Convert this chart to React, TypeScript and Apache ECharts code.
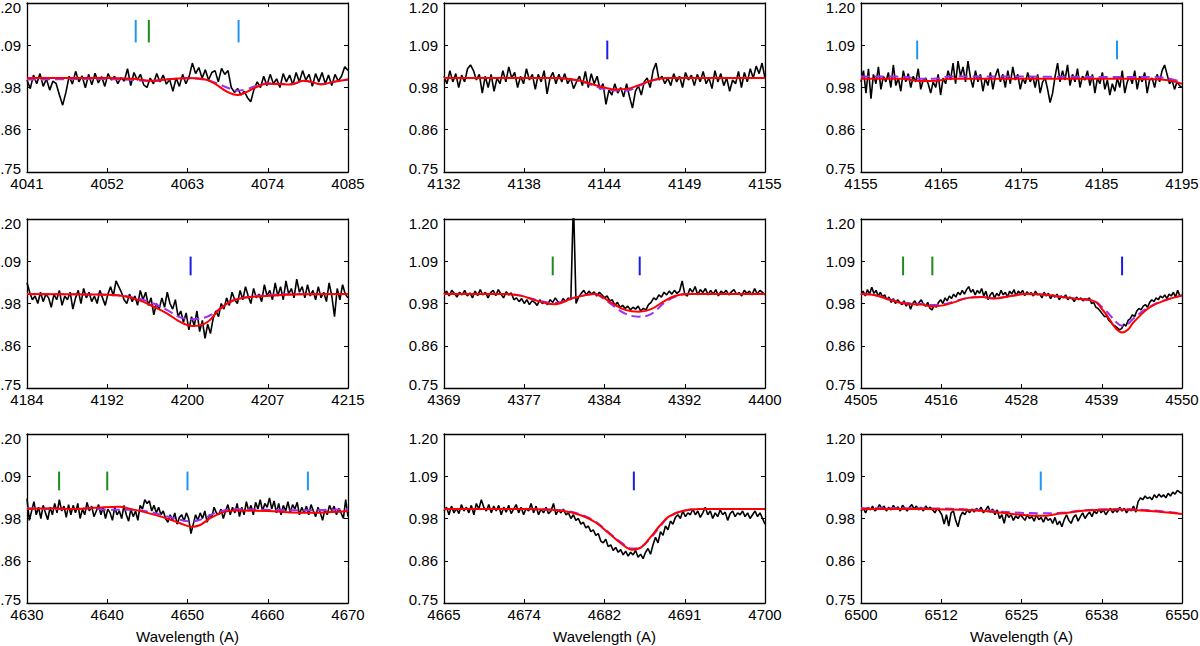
import React, { useEffect, useRef } from "react";
import * as echarts from "echarts";

// Normalised flux axis shared by every panel
const yTickValues = [0.75, 0.8625, 0.975, 1.0875, 1.2];
const yTickLabels = ["0.75", "0.86", "0.98", "1.09", "1.20"];

// ---- Panel 1: 4041-4085 A ----
const p1Range = [4041, 4085];
const p1Ticks = ["4041", "4052", "4063", "4074", "4085"];
const p1Flux = [
  0.995, 0.972, 1.008, 0.985, 1.012, 0.978, 0.998, 0.968, 0.992, 0.985,
  0.955, 0.928, 0.962, 1.005, 0.984, 1.018, 0.99, 1.006, 0.974, 1.01,
  0.982, 1.013, 0.987, 1.004, 0.978, 1.012, 0.995, 1.005, 0.985, 1.001,
  0.992, 1.025, 0.98, 1.015, 0.995, 1.01, 0.982, 0.975, 1.0, 0.985,
  1.012, 0.99, 1.008, 0.984, 0.996, 0.965, 1.0, 0.978, 1.01, 0.985,
  1.004, 1.04, 1.012, 1.028, 1.0, 1.022, 0.995, 1.015, 1.02, 0.99,
  1.026, 1.01, 1.02, 0.975, 0.962, 0.972, 0.955, 0.965, 0.948, 0.937,
  0.97, 0.99, 0.975, 1.005, 0.98, 1.01, 0.985, 0.998, 0.975, 1.012,
  0.99, 1.008, 0.982, 1.015, 0.99, 1.02, 0.995, 1.01, 0.978, 1.012,
  0.99, 1.015, 0.985, 1.008, 0.98, 1.01, 0.992, 1.005, 1.03, 1.02,
];
const p1Red = [
  [4041, 1.0], [4052, 1.0], [4055.5, 0.998], [4058, 0.993], [4060.5, 0.997],
  [4063, 1.0], [4065, 0.998], [4066.5, 0.988], [4068.4, 0.964], [4069.8, 0.955],
  [4071, 0.962], [4072.2, 0.974], [4074, 0.985], [4075.5, 0.984], [4077.2, 0.983],
  [4078.9, 0.993], [4080, 0.99], [4081.3, 0.983], [4083, 0.99], [4085, 0.996],
];
const p1Purple = [
  [4041, 0.996], [4045, 0.997], [4050, 0.998], [4053, 0.997], [4055.5, 0.995],
  [4058, 0.992], [4060.5, 0.997], [4063, 0.999], [4065, 0.997], [4066.5, 0.99],
  [4068.4, 0.975], [4069.8, 0.967], [4071, 0.97], [4072.2, 0.978], [4074, 0.986],
  [4075.5, 0.985], [4077.2, 0.984], [4078.9, 0.992], [4080, 0.99], [4081.3, 0.984],
  [4083, 0.99], [4085, 0.996],
];
const p1Marks = [[4055.9, "c"], [4057.7, "g"], [4070.0, "c"]];
const p1MarkSpan = [1.095, 1.155];

// ---- Panel 2: 4132-4155 A ----
const p2Range = [4132, 4155];
const p2Ticks = ["4132", "4138", "4144", "4149", "4155"];
const p2Flux = [
  1.005, 0.985, 1.02, 0.99, 1.012, 0.975, 1.008, 0.99, 1.025, 1.035,
  1.02, 0.995, 1.01, 0.96, 1.005, 0.975, 1.01, 0.965, 1.0, 0.985,
  1.02, 0.99, 1.03, 1.0, 1.015, 0.975, 1.005, 0.985, 1.025, 0.995,
  1.01, 0.97, 1.01, 0.99, 1.02, 0.958, 1.0, 1.015, 0.985, 1.01,
  0.99, 1.012, 0.985, 1.0, 0.972, 0.99, 1.005, 0.98, 1.018, 0.975,
  1.012, 0.985, 1.005, 0.97, 0.985, 0.93, 0.968, 0.955, 0.985, 0.96,
  0.975, 0.95, 0.985, 0.95, 0.92, 0.965, 0.98, 0.955, 0.99, 1.0,
  0.975, 1.02, 1.04, 0.995, 1.005, 0.985, 1.0, 0.98, 1.012, 0.99,
  1.005, 0.975, 1.015, 0.995, 1.008, 0.98, 1.01, 0.99, 1.018, 0.985,
  1.0, 0.972, 1.02, 0.99, 1.012, 0.98, 1.0, 0.965, 0.995, 0.985,
  1.018, 0.975, 1.015, 0.99, 1.025, 1.0, 1.032, 1.012, 1.04, 1.0,
];
const p2Red = [
  [4132, 1.0], [4140, 1.0], [4141.5, 0.995], [4142.5, 0.985], [4143.5, 0.975],
  [4144.3, 0.97], [4145.2, 0.972], [4146, 0.982], [4147, 0.995], [4148, 1.0],
  [4155, 1.0],
];
const p2Purple = [
  [4132, 1.0], [4140, 1.0], [4141.5, 0.994], [4142.5, 0.983], [4143.5, 0.97],
  [4144.3, 0.967], [4145.2, 0.968], [4146, 0.98], [4147, 0.994], [4148, 1.0],
  [4155, 1.0],
];
const p2Marks = [[4143.7, "b"]];
const p2MarkSpan = [1.05, 1.1];

// ---- Panel 3: 4155-4195 A ----
const p3Range = [4155, 4195];
const p3Ticks = ["4155", "4165", "4175", "4185", "4195"];
const p3Flux = [
  0.99, 1.02, 0.96, 1.025, 0.945, 1.01, 0.985, 1.03, 0.97, 1.005,
  0.99, 1.015, 0.975, 1.035, 0.98, 1.0, 0.965, 1.02, 0.99, 1.012,
  0.975, 1.005, 0.99, 1.025, 0.97, 0.995, 1.0, 0.985, 0.96, 0.99,
  0.975, 1.01, 0.955, 1.0, 0.985, 1.02, 0.995, 1.04, 0.985, 1.045,
  1.005, 1.03, 0.99, 1.045, 1.0, 0.975, 1.02, 0.99, 1.01, 0.965,
  1.0, 0.98, 1.015, 0.97, 1.005, 1.025, 0.99, 1.01, 0.975, 1.02,
  0.985, 1.03, 0.995, 1.01, 0.97, 1.0, 0.985, 1.015, 0.99, 1.005,
  0.975, 1.01, 0.96, 0.99, 1.0, 0.97, 0.935, 0.96, 1.005, 1.04,
  0.99, 1.02, 0.995, 1.035, 0.98, 1.01, 0.99, 1.025, 0.975, 1.005,
  0.995, 1.02, 0.98, 1.01, 0.96, 1.0, 0.985, 1.015, 0.97, 0.995,
  0.955, 0.985, 0.965, 1.0, 0.975, 1.02, 0.96, 0.99, 1.005, 0.985,
  1.02, 0.97, 1.005, 0.99, 1.015, 0.96, 0.995, 1.0, 0.975, 1.01,
  0.99, 1.02, 1.035, 1.01, 0.985, 0.995, 0.97, 0.99, 0.98, 0.975,
];
const p3Red = [
  [4155, 0.998], [4160, 0.998], [4162.5, 0.992], [4164.5, 0.993], [4166, 0.998],
  [4175, 0.998], [4185, 0.998], [4188, 0.998], [4191, 0.997], [4193, 0.995],
  [4195, 0.985],
];
const p3Purple = [
  [4155, 1.004], [4160, 1.004], [4162.5, 0.998], [4164.5, 0.999], [4166, 1.004],
  [4175, 1.004], [4185, 1.003], [4188, 1.003], [4191, 1.003], [4193, 1.0],
  [4195, 0.99],
];
const p3Marks = [[4162.0, "c"], [4186.9, "c"]];
const p3MarkSpan = [1.05, 1.1];

// ---- Panel 4: 4184-4215 A ----
const p4Range = [4184, 4215];
const p4Ticks = ["4184", "4192", "4200", "4207", "4215"];
const p4Flux = [
  1.03, 1.005, 0.985, 0.995, 0.975, 1.005, 0.98, 1.0, 0.99, 0.965,
  1.0, 0.985, 1.01, 0.97, 0.995, 0.985, 1.005, 0.96, 0.99, 1.01,
  0.975, 1.015, 0.99, 1.005, 0.98, 0.995, 0.975, 1.01, 0.99, 0.97,
  1.0, 1.02, 0.995, 1.035, 1.02, 1.005, 0.985, 0.975, 1.0, 0.98,
  0.995, 0.97, 1.01, 0.985, 1.005, 0.97, 0.99, 0.945, 0.975, 0.96,
  0.99, 0.965, 1.005, 0.975, 0.96, 0.985, 0.94, 0.955, 0.925, 0.95,
  0.905, 0.94, 0.915, 0.955, 0.9, 0.93, 0.882, 0.92, 0.895, 0.935,
  0.955, 0.94, 0.975, 0.96, 0.99, 0.97, 1.005, 0.985, 0.975, 1.01,
  0.985, 1.02, 0.995, 0.975, 1.015, 0.99, 1.0, 0.98, 1.025, 0.995,
  1.01, 0.985, 1.03, 0.995, 1.02, 0.985, 1.035, 1.0, 1.015, 0.99,
  1.04, 1.005, 1.02, 0.99, 1.025, 0.995, 1.01, 0.985, 1.02, 0.99,
  1.005, 0.98, 1.03, 0.995, 0.94, 1.015, 0.985, 1.025, 1.0, 0.99,
];
const p4Red = [
  [4184, 1.0], [4190, 0.999], [4192.7, 0.997], [4194.9, 0.983], [4196.2, 0.967],
  [4197.5, 0.949], [4198.8, 0.926], [4200.0, 0.915], [4201.4, 0.925], [4202.6, 0.96],
  [4203.9, 0.983], [4205.5, 0.992], [4207.1, 0.995], [4210, 0.999], [4215, 1.0],
];
const p4Purple = [
  [4184, 1.0], [4190, 0.999], [4192.7, 0.997], [4194.9, 0.987], [4196.2, 0.975],
  [4197.5, 0.958], [4198.8, 0.938], [4200.0, 0.933], [4201.4, 0.94], [4202.6, 0.96],
  [4203.9, 0.983], [4205.5, 0.993], [4207.1, 0.997], [4210, 1.0], [4215, 1.0],
];
const p4Marks = [[4199.8, "b"]];
const p4MarkSpan = [1.05, 1.1];

// ---- Panel 5: 4369-4400 A ----
const p5Range = [4369, 4400];
const p5Ticks = ["4369", "4377", "4384", "4392", "4400"];
const p5Flux = [
  1.0, 1.008, 0.995, 1.01, 1.002, 0.992, 1.005, 0.998, 1.01, 0.995,
  1.003, 0.99, 1.008, 0.996, 1.012, 0.998, 1.005, 0.99, 1.004, 1.01,
  0.996, 1.012, 1.0, 0.99, 1.006, 0.998, 1.003, 0.985, 0.99, 0.98,
  0.988, 0.975, 0.985, 0.972, 0.982, 0.978, 0.97, 0.985, 0.975, 0.98,
  0.972, 0.985, 0.978, 0.99, 0.98, 0.975, 0.988, 0.98, 0.99, 0.985,
  1.25, 0.975, 0.992, 1.002, 1.01, 0.998, 1.008, 1.0, 1.006, 0.995,
  1.005, 0.998, 0.99, 0.995, 0.982, 0.985, 0.97, 0.978, 0.965, 0.97,
  0.962, 0.968, 0.958, 0.965, 0.96, 0.968, 0.955, 0.962, 0.958, 0.972,
  0.978, 0.99, 0.985, 0.998, 0.992, 1.005, 0.998, 1.008, 1.0, 1.01,
  1.002, 1.008, 1.035, 1.0, 0.995, 1.015, 1.005, 1.02, 0.998, 1.012,
  1.004, 1.015, 0.998, 1.01, 1.0, 1.012, 0.995, 1.008, 1.002, 1.01,
  0.998, 1.006, 1.012, 1.0, 1.004, 0.995, 1.01, 1.002, 1.008, 0.998,
  1.015, 1.0, 1.01, 1.005, 0.998,
];
const p5Red = [
  [4369, 1.0], [4375, 1.0], [4376.4, 0.996], [4378, 0.982], [4379.6, 0.973],
  [4381.5, 0.99], [4382.8, 0.998], [4383.6, 1.0], [4384.2, 0.994], [4385.3, 0.975],
  [4386.5, 0.958], [4387.8, 0.953], [4389, 0.96], [4390.2, 0.98], [4391.3, 0.995],
  [4392.5, 1.0], [4400, 1.0],
];
const p5Purple = [
  [4369, 1.0], [4375, 1.0], [4376.4, 0.996], [4378, 0.984], [4379.6, 0.976],
  [4381.5, 0.99], [4382.8, 0.998], [4383.6, 1.0], [4384.2, 0.992], [4385.3, 0.97],
  [4386.5, 0.948], [4387.8, 0.94], [4389, 0.947], [4390.2, 0.975], [4391.3, 0.993],
  [4392.5, 1.0], [4400, 1.0],
];
const p5Marks = [[4379.5, "g"], [4387.9, "b"]];
const p5MarkSpan = [1.05, 1.1];

// ---- Panel 6: 4505-4550 A ----
const p6Range = [4505, 4550];
const p6Ticks = ["4505", "4516", "4528", "4539", "4550"];
const p6Flux = [
  0.998, 1.008, 0.995, 1.012, 1.0, 1.018, 1.002, 1.01, 0.995, 1.005,
  0.992, 0.998, 0.985, 0.992, 0.978, 0.988, 0.975, 0.985, 0.978, 0.972,
  0.982, 0.968, 0.978, 0.96, 0.975, 0.982, 0.97, 0.978, 0.985, 0.972,
  0.968, 0.978, 0.962, 0.958, 0.972, 0.965, 0.978, 0.985, 0.975, 0.99,
  0.982, 0.995, 0.988, 1.0, 0.992, 1.005, 0.998, 1.01, 1.0, 1.012,
  1.02, 1.005, 1.012, 0.998, 1.01, 1.002, 1.015, 0.995, 1.008, 0.985,
  0.998, 1.005, 0.99, 1.002, 0.995, 1.01, 0.998, 1.005, 0.992, 1.008,
  1.0, 1.012, 0.995, 1.008, 1.002, 1.01, 0.996, 1.006, 1.0, 1.004,
  0.995, 1.008, 0.998, 1.0, 0.99, 1.005, 0.995, 1.002, 0.988, 0.998,
  0.992, 1.0, 0.985, 0.995, 0.99, 0.998, 0.985, 0.992, 0.988, 0.98,
  0.992, 0.985, 0.99, 0.982, 0.988, 0.985, 0.99, 0.975, 0.978, 0.965,
  0.962, 0.955, 0.948, 0.94, 0.942, 0.93, 0.925, 0.918, 0.915, 0.91,
  0.905, 0.908, 0.92, 0.915, 0.93, 0.935, 0.945, 0.94, 0.955, 0.962,
  0.958, 0.968, 0.972, 0.965, 0.978, 0.985, 0.98, 0.99, 0.985, 0.995,
  0.99, 0.998, 0.988, 1.0, 0.995, 1.005, 0.992, 1.01, 0.995, 0.998,
];
const p6Red = [
  [4505, 1.0], [4507, 0.997], [4509, 0.985], [4511, 0.975], [4513.5, 0.972],
  [4515, 0.967], [4516.5, 0.97], [4518, 0.978], [4520, 0.99], [4522, 0.992],
  [4523.6, 0.988], [4526, 0.995], [4528, 1.0], [4531, 0.998], [4533, 0.993],
  [4535, 0.988], [4537.6, 0.982], [4539, 0.955], [4539.9, 0.931], [4540.8, 0.907],
  [4541.6, 0.898], [4542.4, 0.905], [4543.2, 0.925], [4545.5, 0.965], [4547.9, 0.985],
  [4550, 0.996],
];
const p6Purple = [
  [4505, 1.0], [4507, 0.997], [4509, 0.986], [4511, 0.977], [4513.5, 0.974],
  [4515, 0.971], [4516.5, 0.973], [4518, 0.98], [4520, 0.99], [4522, 0.992],
  [4523.6, 0.989], [4526, 0.995], [4528, 1.0], [4531, 0.998], [4533, 0.993],
  [4535, 0.988], [4537.6, 0.982], [4539, 0.962], [4539.9, 0.944], [4540.8, 0.925],
  [4541.6, 0.916], [4542.4, 0.92], [4543.2, 0.935], [4545.5, 0.967], [4547.9, 0.986],
  [4550, 0.996],
];
const p6Marks = [[4510.9, "g"], [4515.0, "g"], [4541.6, "b"]];
const p6MarkSpan = [1.05, 1.1];

// ---- Panel 7: 4630-4670 A ----
const p7Range = [4630, 4670];
const p7Ticks = ["4630", "4640", "4650", "4660", "4670"];
const p7Flux = [
  1.028, 0.97, 0.995, 1.02, 0.985, 1.005, 0.975, 1.01, 0.99, 0.972,
  1.005, 0.985, 1.015, 0.99, 1.025, 0.995, 1.008, 0.978, 1.012, 0.985,
  1.01, 0.99, 1.015, 0.975, 1.0, 0.985, 1.018, 0.995, 1.008, 0.98,
  0.995, 1.012, 0.985, 1.005, 0.975, 1.0, 0.99, 0.97, 1.005, 0.985,
  0.995, 0.975, 1.01, 0.985, 0.968, 1.0, 0.98, 0.995, 0.97, 1.01,
  1.0, 1.025, 1.015, 1.022, 0.995, 1.01, 0.99, 1.005, 0.985, 0.995,
  0.975, 0.965, 0.985, 0.97, 0.99, 0.96, 0.978, 0.985, 0.968, 0.99,
  0.975, 0.935, 0.96, 0.985, 0.97, 0.99, 0.975, 0.995, 0.965, 0.985,
  0.978, 1.005, 0.99, 0.985, 1.0, 0.975, 0.995, 1.012, 0.985, 1.005,
  0.99, 1.015, 0.98, 1.005, 0.985, 1.02, 0.995, 1.01, 0.985, 1.018,
  1.0, 1.025, 0.995, 1.015, 1.005, 1.03, 1.0, 1.022, 0.99, 1.015,
  0.985, 1.01, 0.995, 1.02, 0.99, 1.012, 1.0, 1.018, 0.985, 1.005,
  0.99, 1.008, 0.985, 1.012, 0.995, 0.98, 1.005, 0.99, 0.97, 1.0,
  0.985, 1.01, 0.995, 1.008, 0.985, 1.002, 0.99, 0.975, 1.025, 0.98,
];
const p7Red = [
  [4630, 1.0], [4633, 1.002], [4636, 1.0], [4639, 1.004], [4641.5, 1.006],
  [4643, 1.0], [4645, 0.99], [4647, 0.978], [4649, 0.963], [4650.5, 0.953],
  [4651.5, 0.957], [4653, 0.978], [4654.5, 0.992], [4656, 0.996], [4660, 0.995],
  [4663, 0.991], [4665.5, 0.99], [4668, 0.992], [4670, 0.995],
];
const p7Purple = [
  [4630, 1.002], [4635, 1.0], [4638, 1.002], [4640, 0.998], [4643, 0.998],
  [4645, 0.994], [4647, 0.983], [4649, 0.972], [4650.5, 0.967], [4652, 0.975],
  [4653.5, 0.99], [4656, 1.0], [4660, 0.998], [4665, 0.997], [4670, 1.0],
];
const p7Marks = [[4634, "g"], [4640, "g"], [4650, "c"], [4665, "c"]];
const p7MarkSpan = [1.05, 1.1];

// ---- Panel 8: 4665-4700 A ----
const p8Range = [4665, 4700];
const p8Ticks = ["4665", "4674", "4682", "4691", "4700"];
const p8Flux = [
  0.995, 1.005, 0.985, 1.008, 0.99, 1.002, 0.988, 1.012, 0.995, 1.005,
  0.99, 1.01, 0.985, 1.015, 1.0, 1.025, 1.005, 0.995, 1.012, 0.99,
  1.008, 0.995, 1.01, 0.985, 1.005, 0.992, 1.01, 0.988, 1.0, 1.012,
  0.99, 1.005, 0.985, 1.002, 0.995, 1.015, 0.99, 1.008, 0.985, 1.0,
  0.99, 1.005, 0.988, 0.995, 1.015, 0.985, 0.998, 0.99, 1.0, 0.985,
  0.99, 0.975, 0.985, 0.97, 0.975, 0.96, 0.965, 0.95, 0.955, 0.94,
  0.945, 0.93, 0.935, 0.915, 0.91, 0.92, 0.9, 0.905, 0.89, 0.898,
  0.885, 0.892, 0.878, 0.888, 0.875, 0.885, 0.878, 0.89, 0.872, 0.88,
  0.868, 0.885, 0.895, 0.88, 0.905, 0.925, 0.91, 0.94, 0.93, 0.955,
  0.945, 0.968, 0.96, 0.978, 0.985, 0.975, 0.995, 0.98, 0.99, 0.985,
  1.0, 0.985, 0.995, 0.978, 0.99, 1.005, 0.985, 0.995, 0.975, 0.99,
  0.98, 0.998, 0.985, 0.992, 0.97, 0.988, 0.995, 0.98, 0.99, 0.985,
  0.995, 0.98, 0.99, 0.975, 0.985, 0.995, 0.98, 0.99, 0.975, 0.96,
];
const p8Red = [
  [4665, 1.0], [4674, 1.0], [4678, 0.995], [4680, 0.983], [4681.5, 0.965],
  [4683, 0.935], [4684.5, 0.905], [4685.5, 0.892], [4686.5, 0.898], [4687.5, 0.925],
  [4688.5, 0.955], [4689.5, 0.98], [4691, 0.995], [4693, 1.0], [4700, 1.0],
];
const p8Purple = [
  [4665, 1.0], [4674, 1.0], [4678, 0.996], [4680, 0.985], [4681.5, 0.967],
  [4683, 0.937], [4684.5, 0.908], [4685.5, 0.895], [4686.5, 0.9], [4687.5, 0.922],
  [4688.5, 0.952], [4689.5, 0.978], [4691, 0.995], [4693, 1.0], [4700, 1.0],
];
const p8Marks = [[4685.7, "b"]];
const p8MarkSpan = [1.05, 1.1];

// ---- Panel 9: 6500-6550 A ----
const p9Range = [6500, 6550];
const p9Ticks = ["6500", "6512", "6525", "6538", "6550"];
const p9Flux = [
  0.995, 1.002, 0.99, 1.005, 0.998, 1.008, 0.995, 1.0, 1.012, 1.002,
  1.008, 0.995, 1.005, 0.998, 1.01, 1.0, 1.006, 0.995, 1.01, 1.002,
  0.995, 1.005, 1.012, 1.0, 1.008, 0.998, 1.005, 0.995, 1.008, 1.0,
  1.005, 0.998, 0.99, 1.002, 0.995, 0.985, 0.96, 0.985, 0.955, 0.99,
  0.995, 0.97, 0.953, 0.98, 0.992, 0.985, 0.998, 0.99, 1.0, 0.992,
  1.002, 0.995, 1.005, 0.99, 0.998, 1.008, 0.992, 1.0, 0.985, 0.998,
  0.975, 0.985, 0.962, 0.99, 0.978, 0.985, 0.97, 0.982, 0.975, 0.985,
  0.978, 0.97, 0.985, 0.975, 0.98, 0.968, 0.985, 0.972, 0.978, 0.965,
  0.98, 0.97, 0.975, 0.962, 0.978, 0.958, 0.968, 0.953, 0.972, 0.985,
  0.97, 0.962, 0.978, 0.985, 0.968, 0.98, 0.99, 0.975, 0.985, 0.992,
  0.98, 0.995, 0.988, 1.0, 0.99, 0.998, 0.985, 0.995, 1.002, 0.99,
  0.998, 0.992, 1.005, 0.995, 1.002, 0.99, 1.0, 0.995, 1.008, 0.992,
  1.02, 1.03, 1.025, 1.035, 1.028, 1.032, 1.025, 1.038, 1.03, 1.04,
  1.032, 1.038, 1.03, 1.042, 1.035, 1.045, 1.04, 1.05, 1.045, 1.042,
];
const p9Red = [
  [6500, 1.0], [6510, 1.0], [6518, 0.996], [6522, 0.99], [6525, 0.985],
  [6528, 0.982], [6531, 0.988], [6535, 0.996], [6540, 0.999], [6545, 0.995],
  [6550, 0.987],
];
const p9Purple = [
  [6500, 1.002], [6510, 1.002], [6518, 0.998], [6522, 0.993], [6525, 0.99],
  [6528, 0.989], [6531, 0.99], [6535, 0.997], [6540, 1.0], [6545, 0.997],
  [6550, 0.988],
];
const p9Marks = [[6528.0, "c"]];
const p9MarkSpan = [1.05, 1.1];

const panels = [
  { range: p1Range, ticks: p1Ticks, flux: p1Flux, red: p1Red, purple: p1Purple, marks: p1Marks, span: p1MarkSpan },
  { range: p2Range, ticks: p2Ticks, flux: p2Flux, red: p2Red, purple: p2Purple, marks: p2Marks, span: p2MarkSpan },
  { range: p3Range, ticks: p3Ticks, flux: p3Flux, red: p3Red, purple: p3Purple, marks: p3Marks, span: p3MarkSpan },
  { range: p4Range, ticks: p4Ticks, flux: p4Flux, red: p4Red, purple: p4Purple, marks: p4Marks, span: p4MarkSpan },
  { range: p5Range, ticks: p5Ticks, flux: p5Flux, red: p5Red, purple: p5Purple, marks: p5Marks, span: p5MarkSpan },
  { range: p6Range, ticks: p6Ticks, flux: p6Flux, red: p6Red, purple: p6Purple, marks: p6Marks, span: p6MarkSpan },
  { range: p7Range, ticks: p7Ticks, flux: p7Flux, red: p7Red, purple: p7Purple, marks: p7Marks, span: p7MarkSpan },
  { range: p8Range, ticks: p8Ticks, flux: p8Flux, red: p8Red, purple: p8Purple, marks: p8Marks, span: p8MarkSpan },
  { range: p9Range, ticks: p9Ticks, flux: p9Flux, red: p9Red, purple: p9Purple, marks: p9Marks, span: p9MarkSpan },
];

// Layout of the 3 x 3 grid (pixels)
const COL_LEFT = [27, 444, 861];
const ROW_TOP = [3, 219, 434];
const PANEL_W = 321;
const PANEL_H = 169;

const FONT = "'Liberation Sans', Arial, Helvetica, sans-serif";
const FONT_SIZE = 15;
const MARK_COLORS: Record<string, string> = { c: "#2196f0", g: "#1b8c1b", b: "#1c1ce8" };

function buildOption() {
  const grid: any[] = [];
  const xAxis: any[] = [];
  const yAxis: any[] = [];
  const series: any[] = [];
  const labelText = { color: "#000", fontSize: FONT_SIZE, fontFamily: FONT };

  panels.forEach((p, k) => {
    const row = Math.floor(k / 3);
    const col = k % 3;
    const [xmin, xmax] = p.range;
    const xStep = (xmax - xmin) / 4;
    const xTickValues = p.ticks.map((_, i) => xmin + i * xStep);

    grid.push({
      left: COL_LEFT[col],
      top: ROW_TOP[row],
      width: PANEL_W,
      height: PANEL_H,
      containLabel: false,
      outerBoundsMode: "none",
    });

    const axisLine = { show: true, onZero: false, lineStyle: { color: "#000", width: 1.3 } };
    const tick = { show: true, inside: true, length: 4, lineStyle: { color: "#000", width: 1 } };

    // bottom axis with labels
    xAxis.push({
      type: "value",
      gridIndex: k,
      position: "bottom",
      min: xmin,
      max: xmax,
      axisLine,
      axisTick: { ...tick, customValues: xTickValues },
      axisLabel: {
        show: true,
        customValues: xTickValues,
        margin: 4,
        ...labelText,
        formatter: (v: number) => p.ticks[Math.round((v - xmin) / xStep)],
      },
      splitLine: { show: false },
      name: row === 2 ? "Wavelength (A)" : "",
      nameLocation: "middle",
      nameGap: 26,
      nameTextStyle: { ...labelText },
    });
    // top axis: box edge with ticks only
    xAxis.push({
      type: "value",
      gridIndex: k,
      position: "top",
      min: xmin,
      max: xmax,
      axisLine,
      axisTick: { ...tick, customValues: xTickValues },
      axisLabel: { show: false },
      splitLine: { show: false },
    });
    // left axis with labels; end labels sit slightly inside the box
    yAxis.push({
      type: "value",
      gridIndex: k,
      position: "left",
      min: 0.75,
      max: 1.2,
      axisLine,
      axisTick: { ...tick, customValues: yTickValues },
      axisLabel: {
        show: true,
        customValues: yTickValues,
        margin: 6,
        ...labelText,
        rich: {
          hi: { ...labelText, padding: [8, 0, 0, 0] },
          lo: { ...labelText, padding: [0, 0, 8, 0] },
        },
        formatter: (v: number) => {
          let best = 0;
          yTickValues.forEach((t, i) => {
            if (Math.abs(t - v) < Math.abs(yTickValues[best] - v)) best = i;
          });
          const s = yTickLabels[best];
          if (best === yTickValues.length - 1) return `{hi|${s}}`;
          if (best === 0) return `{lo|${s}}`;
          return s;
        },
      },
      splitLine: { show: false },
    });
    // right axis: box edge with ticks only
    yAxis.push({
      type: "value",
      gridIndex: k,
      position: "right",
      min: 0.75,
      max: 1.2,
      axisLine,
      axisTick: { ...tick, customValues: yTickValues },
      axisLabel: { show: false },
      splitLine: { show: false },
    });

    const n = p.flux.length;
    const fluxData = p.flux.map((v, i) => [xmin + (i * (xmax - xmin)) / (n - 1), v]);

    series.push({
      type: "line",
      xAxisIndex: 2 * k,
      yAxisIndex: 2 * k,
      data: fluxData,
      symbol: "none",
      clip: true,
      lineStyle: { color: "#000", width: 1.6 },
      z: 2,
    });
    series.push({
      type: "line",
      xAxisIndex: 2 * k,
      yAxisIndex: 2 * k,
      data: p.purple,
      symbol: "none",
      smooth: 0.4,
      clip: true,
      lineStyle: { color: "#9b30f5", width: 2, type: [9, 5] },
      z: 3,
    });
    series.push({
      type: "line",
      xAxisIndex: 2 * k,
      yAxisIndex: 2 * k,
      data: p.red,
      symbol: "none",
      smooth: 0.4,
      clip: true,
      lineStyle: { color: "#ff0000", width: 2 },
      z: 4,
    });
    p.marks.forEach(([w, kind]) => {
      series.push({
        type: "line",
        xAxisIndex: 2 * k,
        yAxisIndex: 2 * k,
        data: [
          [w, p.span[0]],
          [w, p.span[1]],
        ],
        symbol: "none",
        lineStyle: { color: MARK_COLORS[kind as string], width: 2 },
        z: 5,
      });
    });
  });

  return {
    animation: false,
    backgroundColor: "#ffffff",
    grid,
    xAxis,
    yAxis,
    series,
  };
}

export default function App() {
  const ref = useRef<HTMLDivElement>(null);
  useEffect(() => {
    if (!ref.current) return;
    const chart = echarts.init(ref.current, undefined, { renderer: "svg" });
    chart.setOption(buildOption() as any);
    return () => chart.dispose();
  }, []);
  return (
    <div
      ref={ref}
      style={{ position: "absolute", left: 0, top: 0, width: 1200, height: 646, background: "#fff" }}
    />
  );
}
